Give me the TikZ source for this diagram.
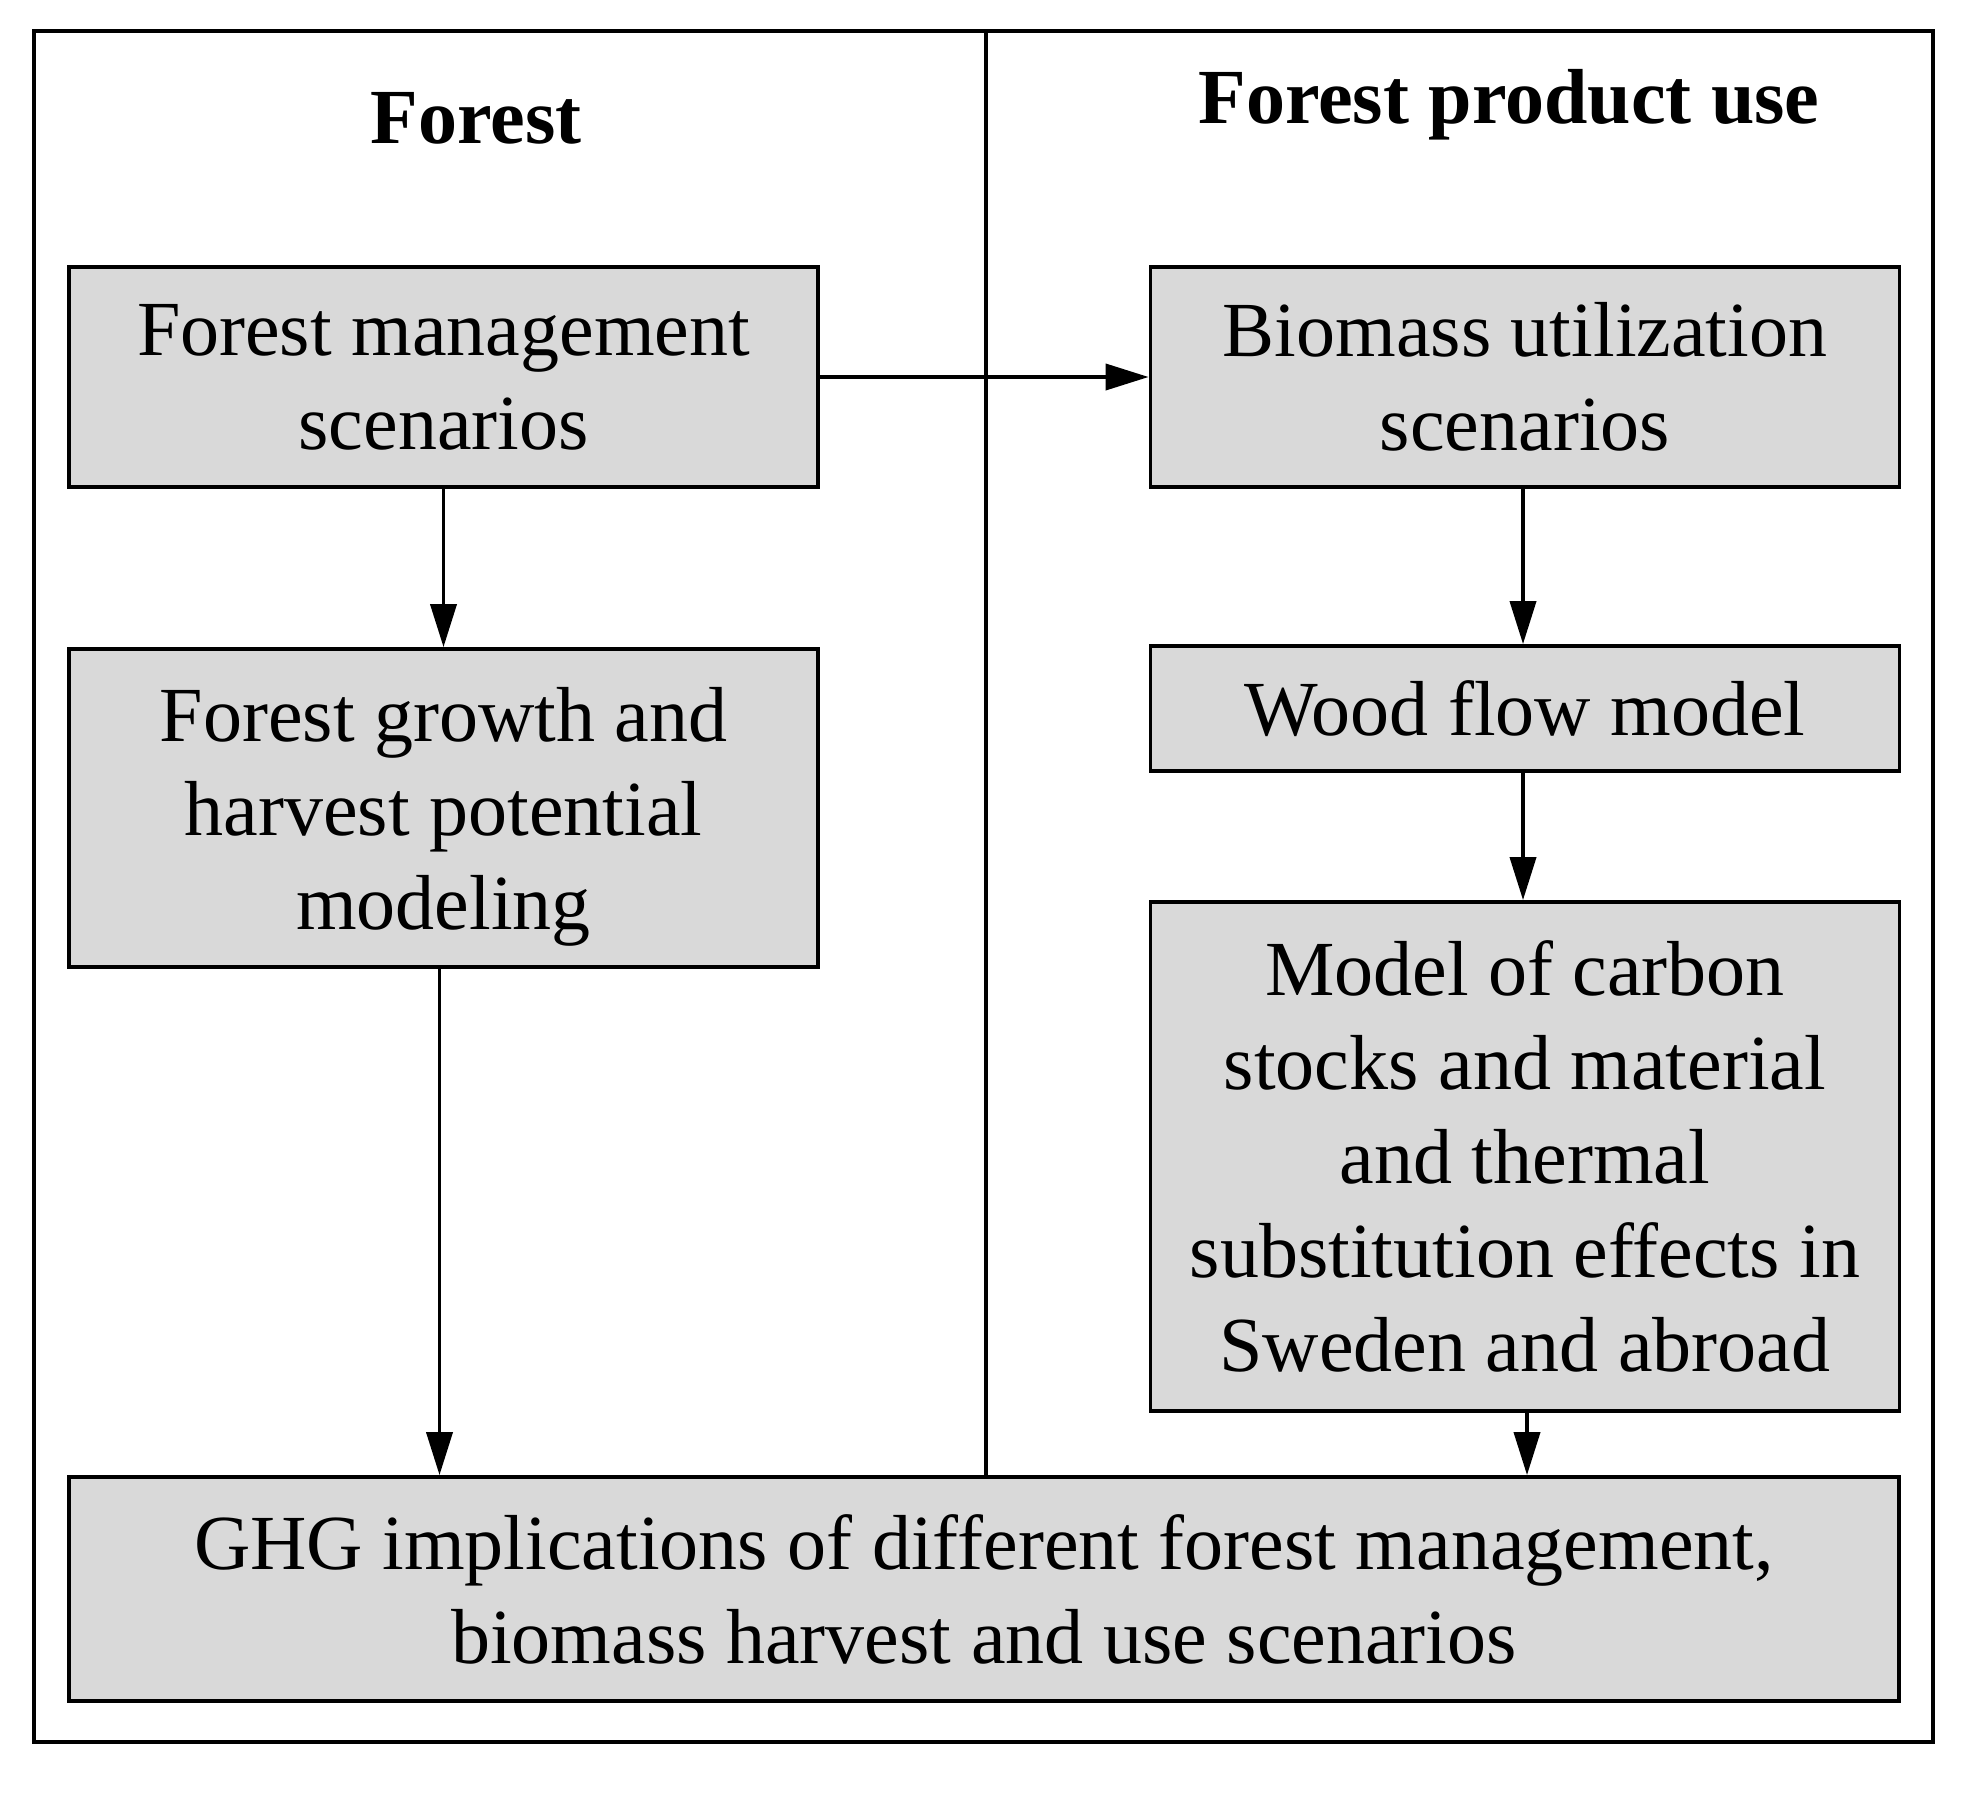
\documentclass[tikz,border=0pt]{standalone}
\usepackage{fontspec}
\setmainfont{Liberation Serif}
\usetikzlibrary{arrows.meta}
\definecolor{boxgray}{RGB}{217,217,217}
\begin{document}
\begin{tikzpicture}[x=0.5pt,y=-0.5pt,
  box/.style={draw, line width=1.9pt, fill=boxgray, inner sep=0pt, align=center,
    font=\fontsize{39}{47}\selectfont, minimum width=374.5pt},
  arr/.style={line width=1.9pt, -{Triangle[length=21.5pt,width=13pt]}},
  ttl/.style={font=\bfseries\fontsize{39}{47}\selectfont, anchor=base, inner sep=0pt},
  frameline/.style={line width=1.8pt}]
\useasboundingbox (0,0) rectangle (1964,1793);
% outer frame
\draw[frameline] (34,31) rectangle (1933,1742);
% titles
\node[ttl] (t1) at (476,143) {Forest};
\node[ttl] (t2) at (1509,124) {Forest product use};
% boxes
\node[box, minimum height=110pt] (fm) at (443.5,377) {Forest management\\scenarios};
\node[box, minimum height=159pt] (fg) at (443.5,808) {Forest growth and\\harvest potential\\\raisebox{0pt}[\height][0pt]{modeling}};
\node[box, minimum height=110pt] (bu) at (1525,377) {Biomass utilization\\scenarios};
\node[box, minimum height=62.5pt] (wf) at (1525,708.5) {Wood flow model};
\node[box, minimum height=254.5pt] (mc) at (1525,1156.5) {Model of carbon\\stocks and material\\and thermal\\substitution effects in\\Sweden and abroad};
\node[box, minimum width=915pt, minimum height=112pt] (ghg) at (984,1589) {GHG implications of different forest management,\\biomass harvest and use scenarios};
% divider
\coordinate (divtop) at (986,31);
\draw[frameline] (divtop) -- (divtop |- ghg.north);
% arrows
\draw[arr] (fm) -- (fg);
\draw[arr] ([xshift=-2pt]fg.south) -- ([xshift=-2pt]fg.south |- ghg.north);
\draw[arr] (fm) -- (bu);
\draw[arr] ([xshift=-1pt]bu.south) -- ([xshift=-1pt]bu.south |- wf.north);
\draw[arr] ([xshift=-1pt]wf.south) -- ([xshift=-1pt]wf.south |- mc.north);
\draw[arr] ([xshift=1pt]mc.south) -- ([xshift=1pt]mc.south |- ghg.north);
\end{tikzpicture}
\end{document}
